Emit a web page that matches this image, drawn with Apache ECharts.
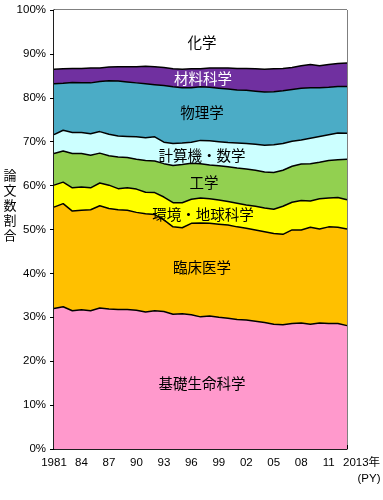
<!DOCTYPE html>
<html>
<head>
<meta charset="utf-8">
<script src="https://cdn.jsdelivr.net/npm/echarts@6/dist/echarts.min.js"></script>
<style>html,body{margin:0;padding:0;background:#fff;}#c{width:383px;height:500px;}</style>
</head>
<body>
<div id="c"></div>
<script>
const years = [];
for (let y = 1981; y <= 2013; y++) years.push(String(y));

const fieldNames = ['基礎生命科学','臨床医学','環境・地球科学','工学','計算機・数学','物理学','材料科学','化学'];

const basicLife = [32.0,32.4,31.5,31.7,31.5,32.1,31.9,31.8,31.8,31.6,31.2,31.5,31.3,30.7,30.8,30.6,30.1,30.3,30.0,29.8,29.5,29.4,29.1,28.8,28.4,28.3,28.6,28.7,28.4,28.7,28.6,28.6,28.1];
const clinical = [23.1,23.5,22.7,22.7,23.0,23.3,22.9,22.7,22.6,22.3,22.4,21.9,20.9,19.9,19.6,20.8,21.4,21.1,21.2,21.2,21.1,20.9,20.8,20.7,20.7,20.6,21.3,21.2,22.1,21.4,22.0,21.9,22.0];
const envEarth = [5.0,4.9,5.3,5.3,5.0,5.2,5.3,4.8,5.1,5.3,4.9,5.0,5.2,5.5,5.7,5.5,5.7,5.6,5.5,5.4,5.4,5.3,5.4,5.4,5.5,6.4,6.3,6.7,6.0,6.9,6.6,6.8,6.7];
const engineering = [7.2,7.1,7.8,7.6,7.4,6.8,6.7,7.2,6.9,6.8,7.2,7.2,7.6,8.5,8.7,8.2,7.8,7.7,7.8,7.9,8.0,8.2,8.2,8.2,8.4,8.2,8.2,8.3,8.5,8.3,8.5,8.6,9.2];
const computing = [4.3,4.7,4.8,4.8,4.9,4.9,4.9,4.8,4.8,5.1,5.2,5.5,4.9,5.0,4.9,4.8,5.3,5.5,5.5,5.5,5.7,5.8,5.9,6.1,6.3,6.1,5.7,5.5,5.8,5.9,5.9,6.1,5.9];
const physics = [11.6,10.7,11.4,11.3,11.6,11.4,12.2,12.5,12.4,12.3,12.3,11.9,12.9,12.9,12.6,12.4,12.2,12.2,12.2,12.2,12.1,12.1,12.1,12.1,12.1,12.0,11.8,11.8,11.5,11.1,10.8,10.6,10.7];
const materials = [3.3,3.3,3.2,3.3,3.4,3.1,3.1,3.3,3.5,3.7,4.0,4.1,4.1,4.1,4.2,4.3,4.1,4.4,4.6,4.8,4.9,5.0,5.1,5.2,5.2,5.1,5.0,5.1,5.3,5.0,5.2,5.2,5.3];
const chemistry = [13.5,13.4,13.3,13.3,13.2,13.2,13.0,12.9,12.9,12.9,12.8,12.9,13.1,13.4,13.5,13.4,13.4,13.2,13.2,13.2,13.3,13.3,13.4,13.5,13.4,13.3,13.1,12.7,12.4,12.7,12.4,12.2,12.1];

const seriesData = [basicLife, clinical, envEarth, engineering, computing, physics, materials, chemistry];
const colors = ['#FF99CC','#FFC000','#FFFF00','#92D050','#CCFFFF','#4BACC6','#7030A0','#FFFFFF'];

const yTicks = [0,10,20,30,40,50,60,70,80,90,100];

const chart = echarts.init(document.getElementById('c'), null, {renderer:'canvas'});

const labelFont = '"Noto Sans CJK JP", sans-serif';
const textLabels = [
  {t:'化学', x:202, y:42, c:'#000'},
  {t:'材料科学', x:203, y:78, c:'#fff'},
  {t:'物理学', x:202, y:112, c:'#000'},
  {t:'計算機・数学', x:202, y:155, c:'#000'},
  {t:'工学', x:204, y:182, c:'#000'},
  {t:'環境・地球科学', x:203, y:214, c:'#000'},
  {t:'臨床医学', x:202, y:267, c:'#000'},
  {t:'基礎生命科学', x:202, y:383, c:'#000'}
];

const graphics = textLabels.map(l => ({
  type:'text', x:l.x, y:l.y, z:100,
  style:{text:l.t, fill:l.c, font:'14.5px ' + labelFont, textAlign:'center', textVerticalAlign:'middle'}
}));
graphics.push({
  type:'text', x:10, y:168, z:100,
  style:{text:'論\n文\n数\n割\n合', fill:'#000', font:'13px ' + labelFont, textAlign:'center', textVerticalAlign:'top', lineHeight:15}
});
graphics.push({
  type:'text', x:343, y:463, z:100,
  style:{text:'2013年', fill:'#000', font:'11.5px "Liberation Sans", ' + labelFont, textAlign:'left', textVerticalAlign:'middle'}
});
graphics.push({
  type:'text', x:369, y:479, z:100,
  style:{text:'(PY)', fill:'#000', font:'11.5px "Liberation Sans", ' + labelFont, textAlign:'center', textVerticalAlign:'middle'}
});

const option = {
  backgroundColor:'#fff',
  animation:false,
  grid:{left:54, right:36, top:10, bottom:51, show:true, borderColor:'#000', borderWidth:1, backgroundColor:'transparent'},
  xAxis:{
    type:'category', data:years, boundaryGap:false,
    axisLine:{lineStyle:{color:'#000', width:1.5}},
    axisTick:{show:true, inside:true, length:4, interval:0, lineStyle:{color:'#000'}},
    axisLabel:{
      interval:function(i){ return i % 3 === 0 && i < 32; },
      formatter:function(v, i){ return i === 0 ? v : v.slice(2); },
      color:'#000', fontSize:11.5, fontFamily:'"Liberation Sans", Arial, sans-serif', margin:8
    },
    splitLine:{show:false}
  },
  yAxis:{
    type:'value', min:0, max:100, interval:10,
    axisLine:{show:true, lineStyle:{color:'#000', width:1.5}},
    axisTick:{show:true, inside:false, length:4, lineStyle:{color:'#000'}},
    axisLabel:{formatter:'{value}%', color:'#000', fontSize:11.5, fontFamily:'"Liberation Sans", Arial, sans-serif', margin:8},
    splitLine:{show:false}
  },
  graphic:graphics,
  series: seriesData.map((d, i) => ({
    name: fieldNames[i],
    type:'line', stack:'total', data:d, symbol:'none', smooth:false,
    z: 20 - i,
    lineStyle:{color:'#000', width: i === 7 ? 0 : 1.5},
    areaStyle:{color:colors[i], opacity:1},
    emphasis:{disabled:true}
  }))
};
chart.setOption(option);
</script>
</body>
</html>
